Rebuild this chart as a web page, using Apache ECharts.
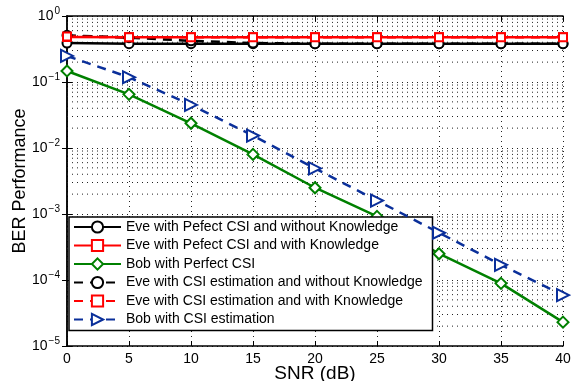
<!DOCTYPE html>
<html>
<head>
<meta charset="utf-8">
<script src="https://cdn.jsdelivr.net/npm/echarts@6/dist/echarts.min.js"></script>
<style>
    html, body { margin: 0; padding: 0; background: #fff; }
    #chart { width: 571px; height: 381px; }
</style>
</head>
<body>
<div id="chart"></div>
<script>
// SNR points (dB)
const snr = [0, 5, 10, 15, 20, 25, 30, 35, 40];

// BER values
const evePerfectNoKnow = [0.39, 0.38, 0.38, 0.38, 0.38, 0.38, 0.38, 0.38, 0.38];
const evePerfectKnow = [0.48, 0.475, 0.475, 0.475, 0.475, 0.475, 0.475, 0.475, 0.475];
const bobPerfect = [0.147, 0.065, 0.0237, 0.008, 0.0025, 0.00092, 0.00025, 0.000089, 0.000023];
const eveEstNoKnow = [0.51, 0.47, 0.42, 0.39, 0.38, 0.38, 0.38, 0.38, 0.38];
const eveEstKnow = [0.49, 0.475, 0.475, 0.475, 0.475, 0.475, 0.475, 0.475, 0.475];
const bobEst = [0.248, 0.118, 0.045, 0.0154, 0.0049, 0.0016, 0.00052, 0.00017, 0.000059];

const seriesNames = [
    'Eve with Pefect CSI and without Knowledge',
    'Eve with Pefect CSI and with Knowledge',
    'Bob with Perfect CSI',
    'Eve with CSI estimation and without Knowledge',
    'Eve with CSI estimation and with Knowledge',
    'Bob with CSI estimation'
];

// minor grid rows of the log axis (2..9 in each decade)
const minorRows = [];
for (let e = -5; e < 0; e++) {
    for (let m = 2; m <= 9; m++) {
        minorRows.push(m * Math.pow(10, e));
    }
}

const font = 'Liberation Sans, Arial, Helvetica, sans-serif';
const gridDots = { type: [1, 4], color: '#222', width: 1 };

function pairs(vals) {
    return snr.map((x, i) => [x, vals[i]]);
}

function mk(name, vals, color, dashed, symbol, size, bw) {
    return {
        name: name,
        type: 'line',
        data: pairs(vals),
        symbol: symbol,
        symbolSize: size,
        symbolRotate: symbol === 'emptyTriangle' ? -90 : 0,
        z: dashed ? 4 : 3,
        lineStyle: {
            color: color,
            width: 2.5,
            type: dashed ? [9, 7] : 'solid'
        },
        itemStyle: {
            color: color,
            borderColor: color,
            borderWidth: bw
        }
    };
}

// dotted rows for the minor decades, drawn as flat lines through the log scale
const gridSeries = minorRows.map(v => ({
    type: 'line',
    data: [[0, v], [40, v]],
    symbol: 'none',
    silent: true,
    z: 1,
    lineStyle: gridDots
}));

const myChart = echarts.init(document.getElementById('chart'));
const option = {
    animation: false,
    textStyle: { fontFamily: font },
    grid: {
        left: 67,
        right: 8,
        top: 16,
        bottom: 35,
        outerBoundsMode: 'none'
    },
    legend: {
        orient: 'vertical',
        left: 69,
        top: 217,
        backgroundColor: '#fff',
        borderColor: '#000',
        borderWidth: 1.5,
        padding: [3, 10, 4, 4],
        itemWidth: 47,
        itemHeight: 14,
        itemGap: 4.5,
        data: seriesNames,
        textStyle: {
            fontFamily: font,
            fontSize: 14,
            color: '#000',
            lineHeight: 14
        }
    },
    xAxis: [
        {
            type: 'value',
            min: 0,
            max: 40,
            interval: 5,
            name: 'SNR (dB)',
            nameLocation: 'middle',
            nameGap: 18,
            nameMoveOverlap: false,
            nameTextStyle: { fontSize: 19, color: '#000', fontFamily: font },
            axisLine: { lineStyle: { color: '#000', width: 1.5 } },
            axisTick: { inside: true, length: 5, lineStyle: { color: '#000' } },
            axisLabel: { color: '#000', fontSize: 14, margin: 6 },
            splitLine: { show: true, lineStyle: gridDots }
        },
        {
            type: 'value',
            position: 'top',
            min: 0,
            max: 40,
            interval: 5,
            axisLine: { show: true, lineStyle: { color: '#000', width: 1.5 } },
            axisTick: { show: true, inside: true, length: 5, lineStyle: { color: '#000' } },
            axisLabel: { show: false },
            splitLine: { show: false }
        }
    ],
    yAxis: [
        {
            type: 'log',
            logBase: 10,
            min: 1e-5,
            max: 1,
            name: 'BER Performance',
            nameLocation: 'middle',
            nameGap: 38,
            nameMoveOverlap: false,
            nameTextStyle: { fontSize: 18, color: '#000', fontFamily: font },
            axisLine: { show: true, lineStyle: { color: '#000', width: 1.5 } },
            axisTick: { show: true, inside: true, length: 5, lineStyle: { color: '#000' } },
            axisLabel: {
                color: '#000',
                margin: 7,
                formatter: function (v) {
                    const e = Math.round(Math.log10(v));
                    return '{b|10}{s|' + (e < 0 ? '\u2212' + (-e) : e) + '}';
                },
                rich: {
                    b: { fontSize: 14, color: '#000', fontFamily: font },
                    s: { fontSize: 10, color: '#000', fontFamily: font, padding: [0, 0, 9, 1] }
                }
            },
            splitLine: { show: true, lineStyle: gridDots }
        },
        {
            type: 'log',
            logBase: 10,
            min: 1e-5,
            max: 1,
            position: 'right',
            axisLine: { show: true, lineStyle: { color: '#000', width: 1.5 } },
            axisTick: { show: true, inside: true, length: 5, lineStyle: { color: '#000' } },
            axisLabel: { show: false },
            splitLine: { show: false }
        }
    ],
    series: gridSeries.concat([
        mk(seriesNames[0], evePerfectNoKnow, '#000000', false, 'emptyCircle', 9, 2.5),
        mk(seriesNames[1], evePerfectKnow, '#ff0000', false, 'emptyRect', 8, 3),
        mk(seriesNames[2], bobPerfect, '#008000', false, 'emptyDiamond', 11, 2.5),
        mk(seriesNames[3], eveEstNoKnow, '#000000', true, 'emptyCircle', 9, 2.5),
        mk(seriesNames[4], eveEstKnow, '#ff0000', true, 'emptyRect', 8, 3),
        mk(seriesNames[5], bobEst, '#0a2f9a', true, 'emptyTriangle', 12, 2.5)
    ])
};
myChart.setOption(option);
</script>
</body>
</html>
